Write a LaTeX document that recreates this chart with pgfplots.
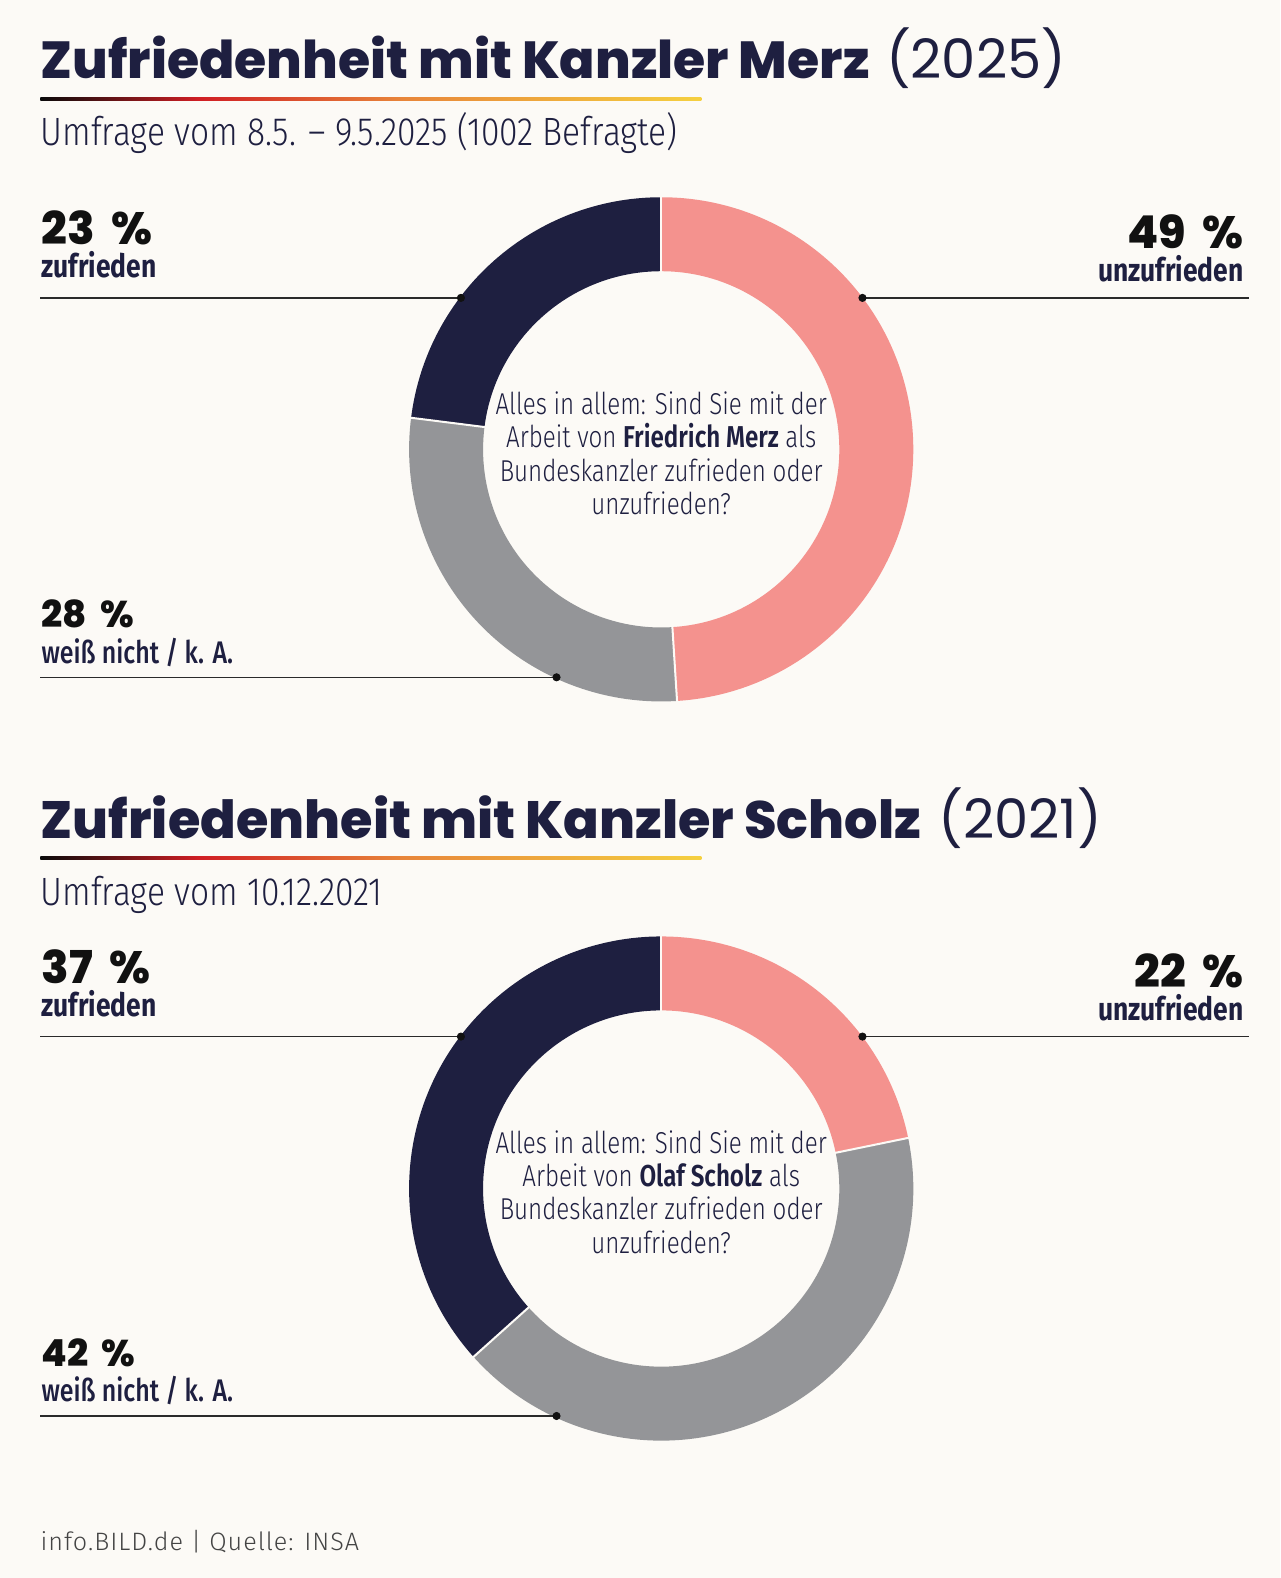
\documentclass[border=0pt]{standalone}
\usepackage{pgfplots}
\pgfplotsset{compat=1.18}
\usepackage{pgfplotstable}
\usepackage{fontspec}
\setmainfont{Fira Sans}
\newfontfamily\headfont{Poppins}
\newfontfamily\heavyfont{Poppins ExtraBold}
\newfontfamily\condfont[FakeStretch=0.82]{Fira Sans}
\newfontfamily\medcond[FakeStretch=0.8]{Fira Sans Medium}
\newfontfamily\lightcond[FakeStretch=0.8, BoldFont={Fira Sans SemiBold}]{Fira Sans Light}
\newfontfamily\subfont[FakeStretch=0.85]{Fira Sans Light}
\newfontfamily\footfont[LetterSpace=4]{Fira Sans Light}

\definecolor{bg}{HTML}{FCFAF6}
\definecolor{navy}{HTML}{1E1F40}
\definecolor{rose}{HTML}{F4928E}
\definecolor{stone}{HTML}{949598}
\definecolor{ink}{HTML}{111111}
\definecolor{rule}{HTML}{2A2A2A}
\definecolor{flagblack}{HTML}{0A0A0A}
\definecolor{flagred}{HTML}{D01E24}
\definecolor{flagorange}{HTML}{E8863A}
\definecolor{flaggold}{HTML}{F5D040}
\definecolor{foot}{HTML}{444444}

% colour stops lie in the 25bp..75bp band that TikZ stretches over the path
\pgfdeclarehorizontalshading{flag}{100bp}{color(0bp)=(flagblack); color(25bp)=(flagblack); color(37bp)=(flagred); color(52.5bp)=(flagorange); color(75bp)=(flaggold); color(100bp)=(flaggold)}

% survey shares, clockwise from 12 o'clock
\pgfplotstableread{
share col
49 rose
28 stone
23 navy
}\merzdata
\pgfplotstableread{
share col
22 rose
42 stone
37 navy
}\scholzdata

\newcommand\Rout{125.25pt}
\newcommand\Rin{88.5pt}

% ring chart from a table: #1 table, #2/#3 centre in axis units
\newcommand\donut[3]{%
  \pgfplotstablegetrowsof{#1}\pgfmathtruncatemacro\nrows{\pgfplotsretval-1}%
  \def\tot{0}%
  \pgfplotsforeachungrouped \ri in {0,...,\nrows}{%
    \pgfplotstablegetelem{\ri}{share}\of{#1}%
    \pgfmathsetmacro\tot{\tot+\pgfplotsretval}}%
  \def\acc{0}%
  \begin{scope}[shift={(axis cs:#2,#3)}]
  \pgfplotsforeachungrouped \ri in {0,...,\nrows}{%
    \pgfplotstablegetelem{\ri}{share}\of{#1}\let\val\pgfplotsretval
    \pgfplotstablegetelem{\ri}{col}\of{#1}\let\slicecol\pgfplotsretval
    \pgfmathsetmacro\sa{90-\acc/\tot*360}%
    \pgfmathsetmacro\acc{\acc+\val}%
    \pgfmathsetmacro\sb{90-\acc/\tot*360}%
    \fill[fill=\slicecol]
      (\sa:\Rout) arc[start angle=\sa, end angle=\sb, radius=\Rout]
      -- (\sb:\Rin) arc[start angle=\sb, end angle=\sa, radius=\Rin] -- cycle;
  }%
  \def\acc{0}%
  \pgfplotsforeachungrouped \ri in {0,...,\nrows}{%
    \pgfplotstablegetelem{\ri}{share}\of{#1}\let\val\pgfplotsretval
    \pgfmathsetmacro\sa{90-\acc/\tot*360}%
    \pgfmathsetmacro\acc{\acc+\val}%
    \draw[bg, line width=1pt] (\sa:86pt) -- (\sa:128pt);
  }%
  \end{scope}%
}

\newcommand\bigpct[1]{\heavyfont\fontsize{22.5}{24}\selectfont #1\hspace{0.36em}\%}
\newcommand\smallpct[1]{\heavyfont\fontsize{18.5}{20}\selectfont #1\hspace{0.36em}\%}
\newcommand\question[1]{\lightcond\fontsize{15}{16}\selectfont #1}

\begin{document}
\begin{tikzpicture}
\fill[bg] (0,0) rectangle (636pt,784pt);
\begin{axis}[
  width=636pt, height=784pt, scale only axis,
  xmin=0, xmax=1272, ymin=0, ymax=1568, y dir=reverse,
  hide axis, clip=false]

\pgfplotsextra{\donut{\merzdata}{657}{446.5}\donut{\scholzdata}{657}{1181}}

% leader lines
\addplot[no marks, rule, line width=0.75pt] coordinates {(40,296) (458,296)};
\addplot[no marks, rule, line width=0.75pt] coordinates {(857,296) (1241,296)};
\addplot[no marks, rule, line width=0.75pt] coordinates {(40,673) (553,673)};
\addplot[no marks, rule, line width=0.75pt] coordinates {(40,1030) (458,1030)};
\addplot[no marks, rule, line width=0.75pt] coordinates {(857,1030) (1241,1030)};
\addplot[no marks, rule, line width=0.75pt] coordinates {(40,1407) (553,1407)};
\addplot[only marks, mark=*, mark size=1.8pt, ink] coordinates {
  (458,296) (857,296) (553,673) (458,1030) (857,1030) (553,1407)};

% ---- Merz ----
\node[anchor=base west, inner sep=0, navy] at (axis cs:40,78)
  {\heavyfont\fontsize{25.9}{30}\selectfont Zufriedenheit mit Kanzler Merz};
\node[anchor=base west, inner sep=0, navy] at (axis cs:880,78)
  {\headfont\fontsize{27}{30}\selectfont (2025)};
\shade[shading=flag] (axis cs:40,96.5) rectangle (axis cs:697,99.5);
\node[anchor=base west, inner sep=0, navy] at (axis cs:40,145)
  {\subfont\fontsize{19.6}{22}\selectfont Umfrage vom 8.5. – 9.5.2025 (1002 Befragte)};

\node[anchor=base west, inner sep=0, ink] at (axis cs:41,243) {\bigpct{23}};
\node[anchor=base west, inner sep=0, navy] at (axis cs:41,276)
  {\condfont\fontsize{16}{18}\selectfont\bfseries zufrieden};
\node[anchor=base east, inner sep=0, ink] at (axis cs:1236,247) {\bigpct{49}};
\node[anchor=base east, inner sep=0, navy] at (axis cs:1236,280)
  {\condfont\fontsize{16}{18}\selectfont\bfseries unzufrieden};
\node[anchor=base west, inner sep=0, ink] at (axis cs:41,624) {\smallpct{28}};
\node[anchor=base west, inner sep=0, navy] at (axis cs:41,659)
  {\medcond\fontsize{15.5}{18}\selectfont weiß nicht / k. A.};

\node[anchor=base, inner sep=0, navy] at (axis cs:657,412) {\question{Alles in allem: Sind Sie mit der}};
\node[anchor=base, inner sep=0, navy] at (axis cs:657,445) {\question{Arbeit von \textbf{Friedrich Merz} als}};
\node[anchor=base, inner sep=0, navy] at (axis cs:657,478) {\question{Bundeskanzler zufrieden oder}};
\node[anchor=base, inner sep=0, navy] at (axis cs:657,511) {\question{unzufrieden?}};

% ---- Scholz ----
\node[anchor=base west, inner sep=0, navy] at (axis cs:40,833)
  {\heavyfont\fontsize{26.1}{30}\selectfont Zufriedenheit mit Kanzler Scholz};
\node[anchor=base west, inner sep=0, navy] at (axis cs:932,833)
  {\headfont\fontsize{27}{30}\selectfont (2021)};
\shade[shading=flag] (axis cs:40,851.5) rectangle (axis cs:697,854.5);
\node[anchor=base west, inner sep=0, navy] at (axis cs:40,900)
  {\subfont\fontsize{19.6}{22}\selectfont Umfrage vom 10.12.2021};

\node[anchor=base west, inner sep=0, ink] at (axis cs:41,977) {\bigpct{37}};
\node[anchor=base west, inner sep=0, navy] at (axis cs:41,1010)
  {\condfont\fontsize{16}{18}\selectfont\bfseries zufrieden};
\node[anchor=base east, inner sep=0, ink] at (axis cs:1236,981) {\bigpct{22}};
\node[anchor=base east, inner sep=0, navy] at (axis cs:1236,1014)
  {\condfont\fontsize{16}{18}\selectfont\bfseries unzufrieden};
\node[anchor=base west, inner sep=0, ink] at (axis cs:41,1358) {\smallpct{42}};
\node[anchor=base west, inner sep=0, navy] at (axis cs:41,1393)
  {\medcond\fontsize{15.5}{18}\selectfont weiß nicht / k. A.};

\node[anchor=base, inner sep=0, navy] at (axis cs:657,1146) {\question{Alles in allem: Sind Sie mit der}};
\node[anchor=base, inner sep=0, navy] at (axis cs:657,1179) {\question{Arbeit von \textbf{Olaf Scholz} als}};
\node[anchor=base, inner sep=0, navy] at (axis cs:657,1212) {\question{Bundeskanzler zufrieden oder}};
\node[anchor=base, inner sep=0, navy] at (axis cs:657,1246) {\question{unzufrieden?}};

% ---- footer ----
\node[anchor=base west, inner sep=0, foot] at (axis cs:40,1541)
  {\footfont\fontsize{12.5}{15}\selectfont info.BILD.de | Quelle: INSA};
\end{axis}
\end{tikzpicture}
\end{document}
